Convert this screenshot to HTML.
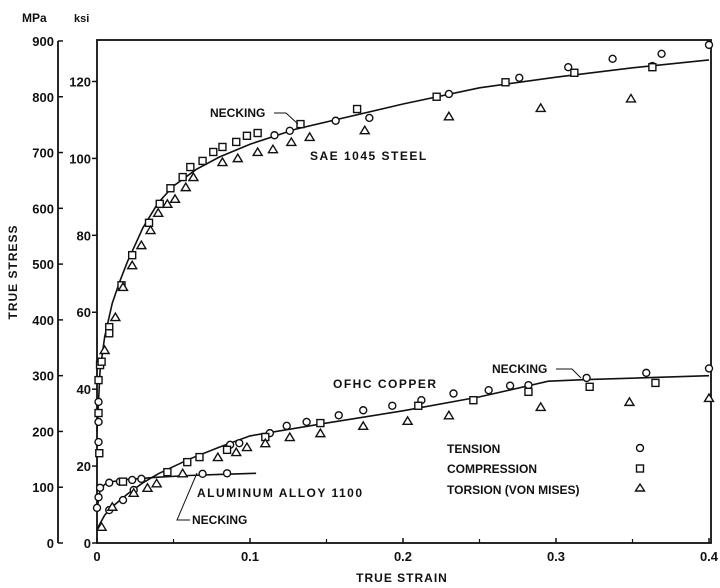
<!DOCTYPE html>
<html><head><meta charset="utf-8"><style>
body{margin:0;background:#fff;}
svg{display:block;font-family:"Liberation Sans",sans-serif;}
text{fill:#111;font-size:12px;font-weight:bold;}
</style></head><body>
<svg id="chart" width="720" height="588" viewBox="0 0 720 588" xmlns="http://www.w3.org/2000/svg">
<g id="axes"></g>
<g id="curves"></g>
<g id="marks"></g>
<g id="labels">
<text x="22" y="22">MPa</text>
<text x="74" y="22" style="font-size:11px">ksi</text>
<text transform="translate(17,272) rotate(-90)" text-anchor="middle" style="letter-spacing:1px">TRUE STRESS</text>
<text x="402" y="582" text-anchor="middle" style="letter-spacing:1px">TRUE STRAIN</text>
<text x="310" y="160" style="letter-spacing:1.5px">SAE 1045 STEEL</text>
<text x="333" y="388" style="letter-spacing:1.5px">OFHC COPPER</text>
<text x="197" y="497" style="letter-spacing:1.5px">ALUMINUM ALLOY 1100</text>
<text x="210" y="117">NECKING</text>
<path d="M274 113 L286 113 L298 124" fill="none" stroke="#111" stroke-width="1"/>
<text x="492" y="373">NECKING</text>
<path d="M556 369 L572 369 L581 378" fill="none" stroke="#111" stroke-width="1"/>
<text x="192" y="524">NECKING</text>
<path d="M190 520 L177 520 L197 473" fill="none" stroke="#111" stroke-width="1"/>
<text x="447" y="453">TENSION</text>
<text x="447" y="473">COMPRESSION</text>
<text x="447" y="494">TORSION (VON MISES)</text>
<circle cx="640" cy="448" r="3.5" fill="none" stroke="#111" stroke-width="1.4"/>
<rect x="636.5" y="465" width="7" height="7" fill="none" stroke="#111" stroke-width="1.4"/>
<path d="M640 484 L644.5 491 L635.5 491 Z" fill="none" stroke="#111" stroke-width="1.4"/>
</g>
</svg>
<script>
const xTicks=[0,0.1,0.2,0.3,0.4];
const xTickLabels=["0","0.1","0.2","0.3","0.4"];
const mpaTicks=[0,100,200,300,400,500,600,700,800,900];
const ksiTicks=[0,20,40,60,80,100,120];
const steelLineX=[0,0.002,0.005,0.01,0.015,0.02,0.025,0.03,0.04,0.05,0.065,0.08,0.1,0.13,0.2,0.25,0.3,0.35,0.4];
const steelLineY=[200,310,370,430,470,505,535,565,610,640,670,692,715,742,787,816,835,852,866];
const copperLineX=[0,0.005,0.01,0.02,0.03,0.04,0.06,0.08,0.1,0.15,0.2,0.25,0.295,0.32,0.4];
const copperLineY=[25,50,65,88,108,124,150,172,192,215,237,262,290,293,300];
const alLineX=[0,0.002,0.005,0.01,0.02,0.04,0.06,0.08,0.104];
const alLineY=[60,95,105,110,114,118,121,123,125];
const tensionPts=[[0.001,253],[0.001,217],[0.001,181],[0.116,731],[0.126,739],[0.156,757],[0.178,762],[0.23,805],[0.276,834],[0.308,853],[0.337,868],[0.369,877],[0.4,893],[0.363,855],
 [0.087,176],[0.093,179],[0.113,197],[0.124,210],[0.137,217],[0.158,229],[0.174,238],[0.193,246],[0.212,256],[0.233,268],[0.256,274],[0.27,282],[0.282,283],[0.32,296],[0.359,305],[0.4,313],[0.024,95],[0.017,77],[0.008,59],
 [0,63],[0.001,82],[0.002,99],[0.008,108],[0.015,110],[0.023,113],[0.029,115],[0.069,124],[0.085,125]];
const compressionPts=[[0.002,319],[0.003,325],[0.001,292],[0.001,233],[0.0015,161],[0.008,387],[0.008,376],[0.016,462],[0.023,516],[0.034,574],[0.041,608],[0.048,636],[0.056,656],[0.061,674],[0.069,685],[0.076,701],[0.082,710],[0.091,719],[0.098,730],[0.105,735],[0.133,751],[0.17,778],[0.222,800],[0.267,826],[0.312,843],[0.363,853],
 [0.046,127],[0.059,145],[0.067,154],[0.085,167],[0.11,190],[0.146,215],[0.21,246],[0.246,256],[0.282,271],[0.322,280],[0.365,287],[0.017,110]];
const torsionPts=[[0.005,346],[0.012,405],[0.017,459],[0.023,498],[0.029,534],[0.035,561],[0.04,592],[0.046,608],[0.051,617],[0.058,638],[0.063,656],[0.082,683],[0.092,690],[0.105,701],[0.115,706],[0.127,719],[0.139,728],[0.175,740],[0.23,765],[0.29,780],[0.349,797],
 [0.003,29],[0.01,65],[0.024,90],[0.033,99],[0.039,107],[0.056,125],[0.079,154],[0.091,163],[0.098,172],[0.11,179],[0.126,190],[0.146,197],[0.174,210],[0.203,219],[0.23,229],[0.29,244],[0.348,253],[0.4,260]];
const NS="http://www.w3.org/2000/svg";
const X0=97,X1=711,Y0=543,YT=40;
function xs(s){return X0+s*1530;}
function ym(m){return Y0-m*0.5578;}
function yk(k){return ym(k*6.894757);}
function mk(tag,attrs,parent){const e=document.createElementNS(NS,tag);for(const k in attrs)e.setAttribute(k,attrs[k]);parent.appendChild(e);return e;}
const axes=document.getElementById('axes');
let f=mk('rect',{x:X0,y:YT,width:X1-X0,height:Y0-YT,fill:'none',stroke:'#111','stroke-width':1.8},axes);


let ml=mk('line',{x1:58,y1:ym(900),x2:58,y2:ym(0),stroke:'#111','stroke-width':1.8},axes);


mpaTicks.forEach(v=>{
 const l=mk('line',{x1:58,x2:63,y1:ym(v),y2:ym(v),stroke:'#111','stroke-width':1.5},axes);
 
 
 const t=mk('text',{x:54,y:ym(v)+5,'text-anchor':'end',style:'font-size:13px'},axes);t.textContent=v;
 
 
});
ksiTicks.forEach(v=>{
 const l=mk('line',{x1:X0-5,x2:X0,y1:yk(v),y2:yk(v),stroke:'#111','stroke-width':1.5},axes);
 
 
 const t=mk('text',{x:91,y:yk(v)+5,'text-anchor':'end',style:'font-size:13px'},axes);t.textContent=v;
 
 
});
xTicks.forEach((v,i)=>{
 const l=mk('line',{x1:xs(v),x2:xs(v),y1:Y0,y2:Y0-5,stroke:'#111','stroke-width':1.5},axes);
 
 
 if(i<xTicks.length-1){const m=mk('line',{x1:xs(v+0.05),x2:xs(v+0.05),y1:Y0,y2:Y0-4,stroke:'#111','stroke-width':1.2},axes);
 
 }
 const t=mk('text',{x:xs(v),y:561,'text-anchor':'middle',style:'font-size:13px'},axes);t.textContent=xTickLabels[i];
 
 
});
const curves=document.getElementById('curves');
function line(xa,ya,name){
 const d=xa.map((x,i)=>(i?'L':'M')+xs(x).toFixed(1)+' '+ym(ya[i]).toFixed(1)).join(' ');
 const p=mk('path',{d:d,fill:'none',stroke:'#111','stroke-width':1.6},curves);
 
 
}
line(steelLineX,steelLineY,'steel-curve');
line(copperLineX,copperLineY,'copper-curve');
line(alLineX,alLineY,'aluminum-curve');
const marks=document.getElementById('marks');
tensionPts.forEach(p=>{
 const c=mk('circle',{cx:xs(p[0]),cy:ym(p[1]),r:3.5,fill:'#fff',stroke:'#111','stroke-width':1.4},marks);
 
 
});
compressionPts.forEach(p=>{
 const r=mk('rect',{x:xs(p[0])-3.5,y:ym(p[1])-3.5,width:7,height:7,fill:'#fff',stroke:'#111','stroke-width':1.4},marks);
 
 
});
torsionPts.forEach(p=>{
 const x=xs(p[0]),y=ym(p[1]);
 const t=mk('path',{d:`M${x} ${y-4} L${x+4.5} ${y+3.5} L${x-4.5} ${y+3.5} Z`,fill:'#fff',stroke:'#111','stroke-width':1.4},marks);
 
 
});
</script>
</body></html>
